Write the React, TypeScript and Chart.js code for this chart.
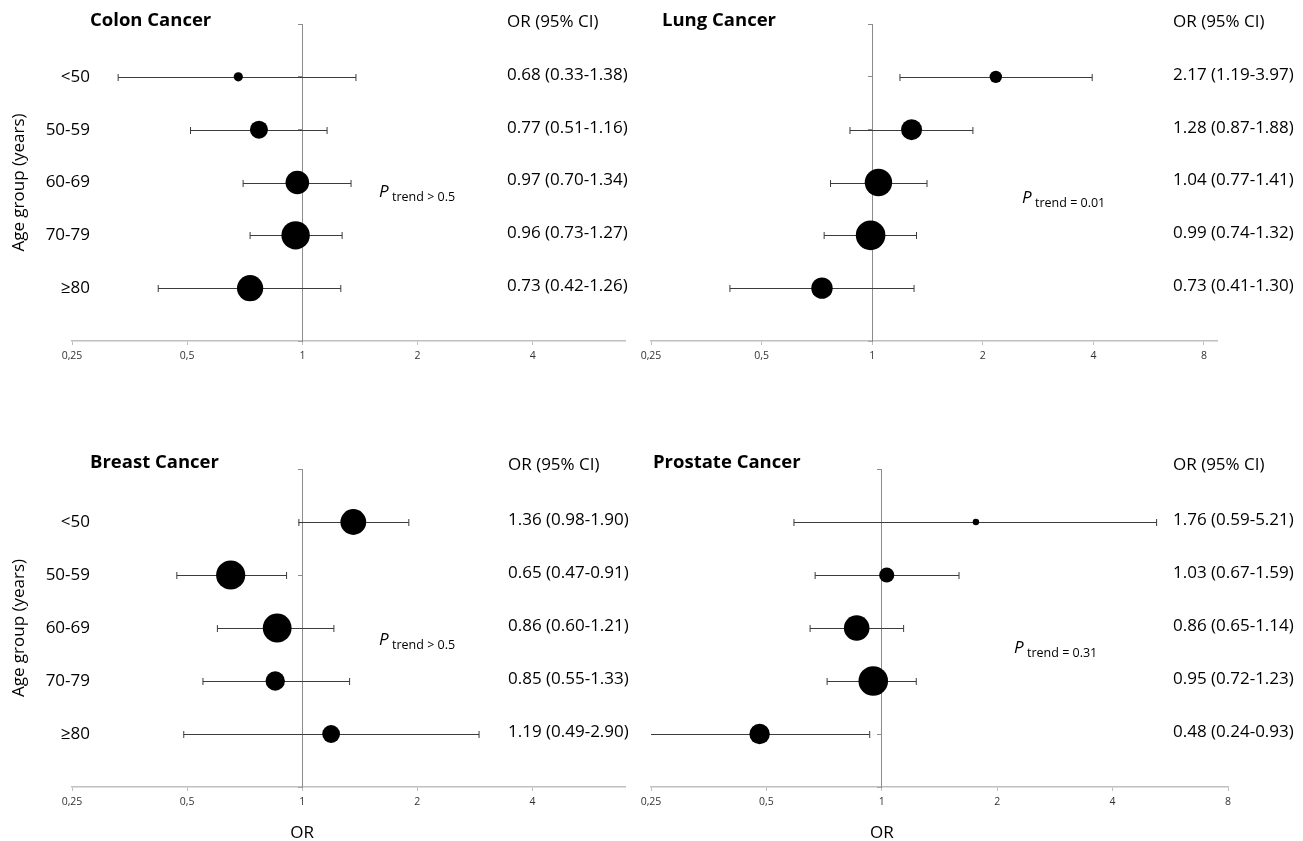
import React, { useEffect, useRef } from 'react';
import { Chart, registerables } from 'chart.js';

Chart.register(...registerables);

// ---------- data ----------
const AGE_GROUPS = ['<50', '50-59', '60-69', '70-79', '≥80'];
const OR_TICKS = [0.25, 0.5, 1, 2, 4, 8];

const COLON_OR = [0.68, 0.77, 0.97, 0.96, 0.73];
const COLON_LO = [0.33, 0.51, 0.7, 0.73, 0.42];
const COLON_HI = [1.38, 1.16, 1.34, 1.27, 1.26];
const COLON_WEIGHT = [4.6, 9, 11.8, 14.2, 13.1];
const COLON_PTREND = 'trend > 0.5';

const LUNG_OR = [2.17, 1.28, 1.04, 0.99, 0.73];
const LUNG_LO = [1.19, 0.87, 0.77, 0.74, 0.41];
const LUNG_HI = [3.97, 1.88, 1.41, 1.32, 1.3];
const LUNG_WEIGHT = [6.2, 10.5, 13.7, 14.8, 10.7];
const LUNG_PTREND = 'trend = 0.01';

const BREAST_OR = [1.36, 0.65, 0.86, 0.85, 1.19];
const BREAST_LO = [0.98, 0.47, 0.6, 0.55, 0.49];
const BREAST_HI = [1.9, 0.91, 1.21, 1.33, 2.9];
const BREAST_WEIGHT = [12.9, 14.6, 14.4, 9.7, 8.9];
const BREAST_PTREND = 'trend > 0.5';

const PROSTATE_OR = [1.76, 1.03, 0.86, 0.95, 0.48];
const PROSTATE_LO = [0.59, 0.67, 0.65, 0.72, 0.24];
const PROSTATE_HI = [5.21, 1.59, 1.14, 1.23, 0.93];
const PROSTATE_WEIGHT = [3.2, 7.6, 12.8, 14.8, 10.2];
const PROSTATE_PTREND = 'trend = 0.31';

// ---------- layout / style ----------
const FONT = "'Open Sans', 'Noto Sans', sans-serif";
const TEXT_SIZE = 17;

type Panel = {
  key: string;
  title: string;
  or: number[];
  lo: number[];
  hi: number[];
  weight: number[];
  ptrend: string;
  xMax: number;
  box: { left: number; top: number; width: number; height: number };
  pad: { left: number; right: number; top: number; bottom: number };
  titleX: number;
  titleY: number;
  headerY: number;
  valuesX: number;
  pX: number;
  pY: number;
  rowLabels: boolean;
  xTitle: boolean;
};

const PANELS: Panel[] = [
  {
    key: 'colon', title: 'Colon Cancer', or: COLON_OR, lo: COLON_LO, hi: COLON_HI, weight: COLON_WEIGHT,
    ptrend: COLON_PTREND, xMax: 7,
    box: { left: 0, top: 0, width: 640, height: 440 },
    pad: { left: 72, right: 13, top: 24, bottom: 69 },
    titleX: 90, titleY: 21, headerY: 22, valuesX: 507, pX: 379, pY: 197, rowLabels: true, xTitle: false,
  },
  {
    key: 'lung', title: 'Lung Cancer', or: LUNG_OR, lo: LUNG_LO, hi: LUNG_HI, weight: LUNG_WEIGHT,
    ptrend: LUNG_PTREND, xMax: 8.68,
    box: { left: 620, top: 0, width: 683, height: 440 },
    pad: { left: 31, right: 86, top: 24, bottom: 69 },
    titleX: 662, titleY: 21, headerY: 22, valuesX: 1173, pX: 1022, pY: 203, rowLabels: false, xTitle: false,
  },
  {
    key: 'breast', title: 'Breast Cancer', or: BREAST_OR, lo: BREAST_LO, hi: BREAST_HI, weight: BREAST_WEIGHT,
    ptrend: BREAST_PTREND, xMax: 7,
    box: { left: 0, top: 440, width: 640, height: 401 },
    pad: { left: 72, right: 13, top: 29, bottom: 24 },
    titleX: 90, titleY: 463, headerY: 465, valuesX: 508, pX: 379, pY: 645, rowLabels: true, xTitle: true,
  },
  {
    key: 'prostate', title: 'Prostate Cancer', or: PROSTATE_OR, lo: PROSTATE_LO, hi: PROSTATE_HI, weight: PROSTATE_WEIGHT,
    ptrend: PROSTATE_PTREND, xMax: 8,
    box: { left: 620, top: 440, width: 683, height: 401 },
    pad: { left: 31, right: 75, top: 29, bottom: 24 },
    titleX: 653, titleY: 463, headerY: 465, valuesX: 1173, pX: 1014, pY: 653, rowLabels: false, xTitle: true,
  },
];

const fmt = (v: number) => v.toFixed(2);

function makePlugin(p: Panel) {
  return {
    id: 'forest_' + p.key,
    beforeDatasetsDraw(chart: any) {
      const { ctx, chartArea, scales } = chart;
      const x = scales.x;
      const y = scales.y;
      ctx.save();
      ctx.beginPath();
      ctx.rect(chartArea.left, chartArea.top, chartArea.right - chartArea.left, chartArea.bottom - chartArea.top);
      ctx.clip();
      ctx.strokeStyle = '#3c3c3c';
      ctx.lineWidth = 1;
      p.lo.forEach((lo, i) => {
        const hi = p.hi[i];
        const yy = Math.round(y.getPixelForValue(i + 1)) + 0.5;
        const x1 = x.getPixelForValue(lo);
        const x2 = x.getPixelForValue(hi);
        ctx.beginPath();
        ctx.moveTo(x1, yy);
        ctx.lineTo(x2, yy);
        ctx.moveTo(x1, yy - 3.5);
        ctx.lineTo(x1, yy + 3.5);
        ctx.moveTo(x2, yy - 3.5);
        ctx.lineTo(x2, yy + 3.5);
        ctx.stroke();
      });
      ctx.restore();
    },
    afterDraw(chart: any) {
      const { ctx, scales, chartArea } = chart;
      const x = scales.x;
      const y = scales.y;
      const ox = p.box.left;
      const oy = p.box.top;
      ctx.save();
      ctx.fillStyle = '#000';
      ctx.textBaseline = 'middle';
      ctx.textAlign = 'left';
      ctx.font = `bold 18.5px ${FONT}`;
      ctx.fillText(p.title, p.titleX - ox, p.titleY - oy);
      ctx.font = `${TEXT_SIZE}px ${FONT}`;
      ctx.fillText('OR (95% CI)', p.valuesX - ox, p.headerY - oy);
      p.or.forEach((v, i) => {
        const yy = y.getPixelForValue(i + 1) - 2;
        ctx.fillText(`${fmt(v)} (${fmt(p.lo[i])}-${fmt(p.hi[i])})`, p.valuesX - ox, yy);
      });
      if (p.rowLabels) {
        ctx.textAlign = 'right';
        AGE_GROUPS.forEach((g, i) => {
          ctx.fillText(g, 90 - ox, y.getPixelForValue(i + 1));
        });
        ctx.save();
        ctx.translate(19 - ox, y.getPixelForValue(3));
        ctx.rotate(-Math.PI / 2);
        ctx.textAlign = 'center';
        ctx.fillText('Age group (years)', 0, 0);
        ctx.restore();
      }
      if (p.xTitle) {
        ctx.textAlign = 'center';
        ctx.fillText('OR', x.getPixelForValue(1), chartArea.bottom + 46);
      }
      ctx.textAlign = 'left';
      ctx.textBaseline = 'alphabetic';
      ctx.font = `italic 17px ${FONT}`;
      ctx.fillText('P', p.pX - ox, p.pY - oy);
      ctx.font = `12.5px ${FONT}`;
      ctx.fillText(p.ptrend, p.pX + 13 - ox, p.pY + 4 - oy);
      ctx.restore();
    },
  };
}

function buildConfig(p: Panel): any {
  return {
    type: 'scatter',
    data: {
      datasets: [
        {
          data: p.or.map((v, i) => ({ x: v, y: i + 1 })),
          pointRadius: p.weight,
          pointHoverRadius: p.weight,
          pointBackgroundColor: '#000',
          pointBorderWidth: 0,
          pointBorderColor: '#000',
          showLine: false,
        },
      ],
    },
    options: {
      responsive: false,
      animation: false,
      events: [],
      layout: { padding: p.pad },
      plugins: { legend: { display: false }, tooltip: { enabled: false }, title: { display: false } },
      scales: {
        x: {
          type: 'logarithmic',
          position: 'bottom',
          min: 0.25,
          max: p.xMax,
          afterBuildTicks: (s: any) => {
            s.ticks = OR_TICKS.filter((v) => v >= s.min - 1e-9 && v <= s.max + 1e-9).map((value) => ({ value }));
          },
          afterFit: (s: any) => {
            s.height = 30;
          },
          border: { display: true, color: '#bfbfbf', width: 1.5 },
          grid: { display: true, drawOnChartArea: false, drawTicks: true, tickLength: 4, color: '#bfbfbf', lineWidth: 1 },
          ticks: {
            autoSkip: false,
            maxRotation: 0,
            minRotation: 0,
            padding: 5,
            color: '#333',
            font: { family: FONT, size: 10.5 },
            callback: (v: any) => String(v).replace('.', ','),
          },
        },
        y: {
          type: 'linear',
          position: { x: 1 },
          min: 0,
          max: 6,
          reverse: true,
          afterFit: (s: any) => {
            s.width = 0;
          },
          border: { display: true, color: '#8c8c8c', width: 1 },
          grid: { display: true, drawOnChartArea: false, drawTicks: true, tickLength: 4, color: '#8c8c8c', lineWidth: 1 },
          ticks: { display: false, stepSize: 1 },
        },
      },
    },
    plugins: [makePlugin(p)],
  };
}

function PanelChart({ panel }: { panel: Panel }) {
  const ref = useRef<HTMLCanvasElement>(null);
  useEffect(() => {
    if (!ref.current) return;
    const chart = new Chart(ref.current, buildConfig(panel));
    return () => chart.destroy();
  }, [panel]);
  const b = panel.box;
  return (
    <canvas
      ref={ref}
      width={b.width}
      height={b.height}
      style={{ position: 'absolute', left: b.left, top: b.top, width: b.width, height: b.height }}
    />
  );
}

export default function App() {
  return (
    <div
      style={{
        position: 'absolute',
        left: 0,
        top: 0,
        width: 1303,
        height: 841,
        background: '#fff',
        overflow: 'hidden',
      }}
    >
      {PANELS.map((p) => (
        <PanelChart key={p.key} panel={p} />
      ))}
    </div>
  );
}
